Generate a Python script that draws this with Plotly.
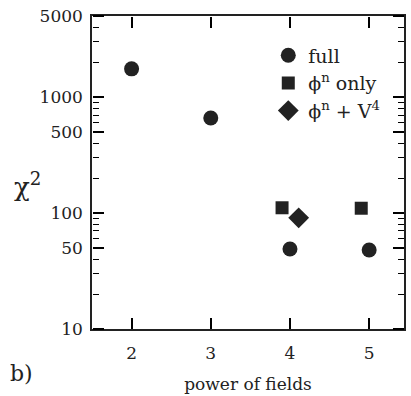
import plotly.graph_objects as go
import math

# data
x_full = [2, 3, 4, 5]
y_full = [1750, 660, 49, 48]
x_phi = [3.9, 4.9]
y_phi = [111, 110]
x_pv = [4.11]
y_pv = [91]

ytick_vals = [10, 50, 100, 500, 1000, 5000]
ytick_text = ["10", "50", "100", "500", "1000", "5000"]
yminor_vals = [20, 30, 40, 60, 70, 80, 90, 200, 300, 400, 600, 700, 800, 900, 2000, 3000, 4000]
xtick_vals = [2, 3, 4, 5]

FONT = "DejaVu Serif"
INK = "#222222"
YR = [1, math.log10(5000)]
XR = [1.5, 5.44]

fig = go.Figure()
fig.add_trace(go.Scatter(x=x_full, y=y_full, mode="markers", name="full",
                         marker=dict(symbol="circle", size=15, color=INK)))
fig.add_trace(go.Scatter(x=x_phi, y=y_phi, mode="markers", name="\u03d5<sup>n</sup> only",
                         marker=dict(symbol="square", size=13, color=INK)))
fig.add_trace(go.Scatter(x=x_pv, y=y_pv, mode="markers", name="\u03d5<sup>n</sup> + V<sup>4</sup>",
                         marker=dict(symbol="diamond", size=16, color=INK)))
# invisible carrier traces for the tick-only overlay axes
for xa, ya in [("x2", "y"), ("x3", "y"), ("x", "y2"), ("x", "y3")]:
    fig.add_trace(go.Scatter(x=x_full, y=y_full, xaxis=xa, yaxis=ya, mode="markers",
                             marker=dict(opacity=0), showlegend=False, hoverinfo="skip"))

tick_common = dict(tickcolor="black", showgrid=False, zeroline=False, showline=False,
                   showticklabels=False, ticks="outside")
xt = dict(range=XR, tickmode="array", tickvals=xtick_vals, ticklen=11, tickwidth=1.5,
          overlaying="x", anchor="free", **tick_common)
yt = dict(type="log", range=YR, tickmode="array", tickvals=ytick_vals, ticklen=11, tickwidth=1.5,
          overlaying="y", anchor="free",
          minor=dict(tickmode="array", tickvals=yminor_vals, ticks="outside", ticklen=6,
                     tickwidth=1.2, tickcolor="black", showgrid=False),
          **tick_common)

fig.update_layout(
    width=411, height=396,
    margin=dict(l=92, r=5, t=16, b=65),
    paper_bgcolor="white", plot_bgcolor="white",
    font=dict(family=FONT, color=INK, size=17),
    showlegend=True,
    legend=dict(x=0.565, y=0.935, xanchor="left", yanchor="top",
                bgcolor="rgba(0,0,0,0)", font=dict(size=19, family=FONT),
                itemwidth=30, tracegroupgap=0),
    xaxis2=dict(side="top", position=0, **xt),
    xaxis3=dict(side="bottom", position=1, **xt),
    yaxis2=dict(side="right", position=0, **yt),
    yaxis3=dict(side="left", position=1, **yt),
)
fig.layout.xaxis.update(
    range=XR, tickmode="array", tickvals=xtick_vals, ticks="",
    showline=True, linecolor=INK, linewidth=1.5, mirror=True,
    showgrid=False, zeroline=False,
    tickfont=dict(size=17, family=FONT), ticklabelstandoff=8,
    title=dict(text="power of fields", font=dict(size=17, family=FONT), standoff=16),
)
fig.layout.yaxis.update(
    type="log", range=YR, tickmode="array", tickvals=ytick_vals, ticktext=ytick_text,
    ticks="", showline=True, linecolor=INK, linewidth=1.5, mirror=True,
    showgrid=False, zeroline=False, tickfont=dict(size=17, family=FONT),
    ticklabelstandoff=4,
)

fig.add_annotation(text="\u03c7<sup>2</sup>", xref="paper", yref="paper", x=-0.255, y=0.46,
                   showarrow=False, font=dict(size=26, family=FONT), xanchor="left")
fig.add_annotation(text="b)", xref="paper", yref="paper", x=-0.27, y=-0.19,
                   showarrow=False, font=dict(size=22, family=FONT), xanchor="left")

fig.write_html("out.html")
